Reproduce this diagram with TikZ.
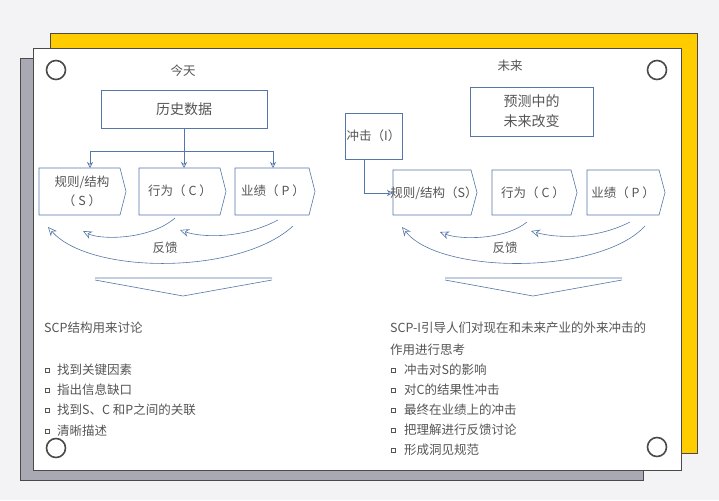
\documentclass[tikz,border=0pt]{standalone}
\usepackage{fontspec}
\setmainfont{Noto Sans CJK SC}
\usetikzlibrary{arrows.meta}
\definecolor{bl}{HTML}{5577A8}
\definecolor{tx}{HTML}{555555}
\definecolor{yl}{HTML}{FFCC00}
\definecolor{gc}{HTML}{A9A9B3}
\definecolor{bd}{HTML}{4A4A4A}
\definecolor{bgc}{HTML}{F3F3F5}
\tikzset{
  lbl/.style={inner sep=0,text=tx,font=\fontsize{12.5}{14}\selectfont},
  boxn/.style={draw=bl,line width=0.6pt,text=tx,align=center,font=\fontsize{14}{20}\selectfont,inner sep=0},
  pn/.style={inner sep=0,text=tx,align=center,font=\fontsize{12.5}{19}\selectfont},
  ln/.style={draw=bl,line width=0.6pt},
  arr/.style={ln,-{Stealth[open,length=9pt,width=8pt]}},
  sarr/.style={ln,-{Stealth[open,length=6pt,width=6pt]}},
  hole/.style={draw=bd,line width=1.6pt,fill=white,circle,minimum size=19pt,inner sep=0},
  bul/.style={draw=tx,line width=0.5pt,minimum size=4pt,inner sep=0,rectangle},
}
\newcommand{\pentagon}[5]{% name, x1,y1,x2,y2
  \path (#2,#3) coordinate (#1nw) (#4,#5) coordinate (#1se);
  \draw[ln] (#2,#3) -- (#4,#3) -- (#4+6,{(#3+#5)/2}) -- (#4,#5) -- (#2,#5) -- cycle;
}
\begin{document}
\begin{tikzpicture}[x=1pt,y=-1pt]
\useasboundingbox (0,0) rectangle (719,500);
\fill[bgc] (0,0) rectangle (719,500);
% cards
\filldraw[fill=yl,draw=bd,line width=0.8pt] (50,33) rectangle (697,453);
\filldraw[fill=gc,draw=bd,line width=0.8pt] (20,58) rectangle (643,480);
\filldraw[fill=white,draw=bd,line width=0.8pt] (33,48) rectangle (681,470);
\node[hole] (h1) at (56,70) {};
\node[hole] (h2) at (657,70) {};
\node[hole] (h3) at (56,448) {};
\node[hole] (h4) at (657,447) {};
% ---- left
\node[lbl] (today) at (183,71) {今天};
\node[boxn,minimum width=166pt,minimum height=38pt] (hist) at (184,109) {历史数据};
\pentagon{S}{39}{168}{120}{215}
\pentagon{C}{139}{168}{220}{215}
\pentagon{P}{235}{168}{309}{215}
\node[pn] (St) at (82,191) {规则/结构\\（ S ）};
\node[pn] (Ct) at (180,191) {行为（ C ）};
\node[pn] (Pt) at (273,191) {业绩（ P ）};
\coordinate (j1) at (184,151);
\draw[ln] (hist.south) -- (j1);
\draw[sarr] (j1) -- (184,168);
\draw[sarr] (j1) -| (90,168);
\draw[sarr] (j1) -| (273,168);
\draw[arr] (175,218) .. controls (150,240) and (100,240) .. (83,231);
\draw[arr] (278,220) .. controls (240,240) and (200,237) .. (180,230);
\draw[arr] (293,226) .. controls (240,275) and (90,275) .. (48,227);
\node[lbl] (fb1) at (165,248) {反馈};
\draw[ln] (95,278) -- (272,278) (95,280) -- (183,296) -- (272,280);
\node[lbl,anchor=west] (l0) at (44,328) {SCP结构用来讨论};
\foreach \t/\y in {找到关键因素/370,指出信息缺口/390,找到S、C 和P之间的关联/410,清晰描述/431}{
  \node[bul] at (47,\y) {};
  \node[lbl,anchor=west] at (57,\y) {\t};
}
% ---- right
\node[lbl] (future) at (510,66) {未来};
\node[boxn,minimum width=123pt,minimum height=49pt] (pred) at (531.5,111.5) {预测中的\\未来改变};
\node[boxn,minimum width=57pt,minimum height=46pt,font=\fontsize{12.5}{14}\selectfont] (imp) at (373.5,136) {冲击（I）};
\pentagon{S2}{393}{170}{471}{215}
\pentagon{C2}{492}{170}{571}{215}
\pentagon{P2}{587}{170}{659}{215}
\node[pn] (S2t) at (434,193) {规则/结构（S）};
\node[pn] (C2t) at (533,193) {行为（ C ）};
\node[pn] (P2t) at (623,193) {业绩（ P ）};
\draw[sarr] (imp.south -| 364,0) |- (393,193);
\draw[arr] (527,222) .. controls (505,240) and (460,240) .. (440,232);
\draw[arr] (630,222) .. controls (595,240) and (555,238) .. (531,231);
\draw[arr] (645,226) .. controls (600,275) and (440,275) .. (402,227);
\node[lbl] (fb2) at (505,248) {反馈};
\draw[ln] (445,278) -- (622,278) (445,280) -- (533,296) -- (622,280);
\node[lbl,anchor=west] (r0) at (390,328) {SCP-I引导人们对现在和未来产业的外来冲击的};
\node[lbl,anchor=west] (r1) at (390,350) {作用进行思考};
\foreach \t/\y in {冲击对S的影响/370,对C的结果性冲击/390,最终在业绩上的冲击/410,把理解进行反馈讨论/430,形成洞见规范/450}{
  \node[bul] at (393,\y) {};
  \node[lbl,anchor=west] at (404,\y) {\t};
}
\end{tikzpicture}
\end{document}
